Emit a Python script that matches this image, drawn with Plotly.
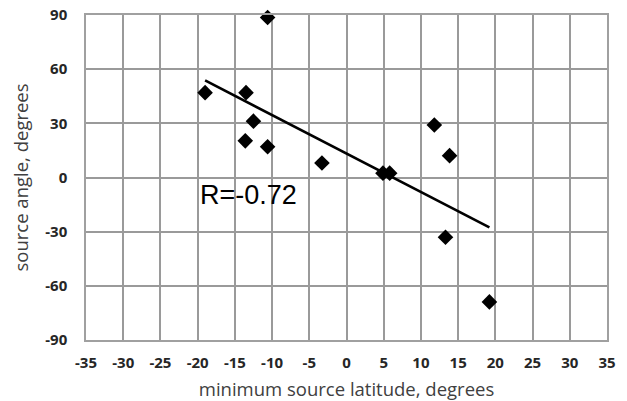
import numpy as np
import plotly.graph_objects as go

# Data
lat = [-10.6, -19.0, -13.5, -12.5, -13.6, -10.6, -3.3, 4.9, 5.8, 11.8, 13.85, 13.3, 19.2]
angle = [88.6, 47.0, 47.0, 31.2, 20.3, 17.0, 8.0, 2.4, 2.4, 29.1, 12.1, -33.1, -68.9]
x_ticks = [-35, -30, -25, -20, -15, -10, -5, 0, 5, 10, 15, 20, 25, 30, 35]
y_ticks = [-90, -60, -30, 0, 30, 60, 90]
r_label = "R=-0.72"

xa = np.array(lat)
ya = np.array(angle)
slope, intercept = np.polyfit(xa, ya, 1)
fit_x = [xa.min(), xa.max()]
fit_y = [slope * v + intercept for v in fit_x]

fig = go.Figure()
fig.add_trace(go.Scatter(x=lat, y=angle, mode="markers", cliponaxis=False,
                         marker=dict(symbol="diamond", size=12, color="black"),
                         showlegend=False))
fig.add_trace(go.Scatter(x=fit_x, y=fit_y, mode="lines",
                         line=dict(color="black", width=2.6), showlegend=False))

fig.add_annotation(x=-20.0, y=-9.6, text=r_label, showarrow=False, xanchor="left",
                   yanchor="middle", font=dict(family="Liberation Sans, Arial", size=27, color="black"))

axis_common = dict(showgrid=True, gridcolor="#9a9a9a", gridwidth=1.5, zeroline=False,
                   showline=True, linecolor="#a0a0a0", linewidth=1.5, mirror=True,
                   automargin=False, ticks="",
                   tickfont=dict(family="Open Sans", size=15, color="#262626", weight="bold"))

fig.update_xaxes(range=[-35, 35], tickvals=x_ticks, ticktext=[str(v) for v in x_ticks],
                 ticklabelstandoff=8,
                 title=dict(text="minimum source latitude, degrees", standoff=12,
                            font=dict(family="Open Sans", size=18.5, color="#404040")),
                 **axis_common)
fig.update_yaxes(range=[-90, 90], tickvals=y_ticks, ticktext=[str(v) for v in y_ticks],
                 ticklabelstandoff=14,
                 title=dict(text="source angle, degrees", standoff=12,
                            font=dict(family="Open Sans", size=18.5, color="#404040")),
                 **axis_common)

fig.update_layout(width=627, height=401, margin=dict(l=86, r=20, t=15, b=61),
                  plot_bgcolor="white", paper_bgcolor="white")

fig.write_html("out.html")
